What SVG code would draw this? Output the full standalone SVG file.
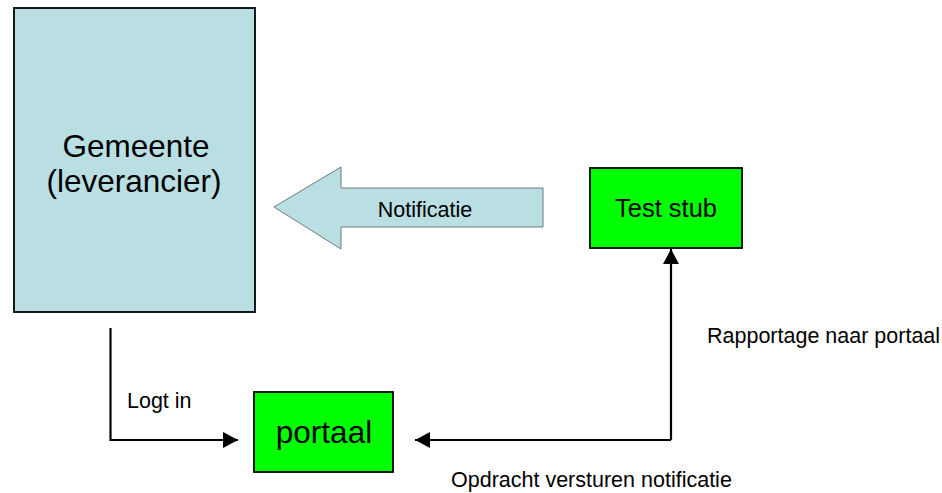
<svg xmlns="http://www.w3.org/2000/svg" width="942" height="493" viewBox="0 0 942 493">
<defs>
<style>
text{font-family:"Liberation Sans",Arial,sans-serif;fill:#000}
.big{font-size:31.5px}
.mid{font-size:25.5px}
.sm{font-size:21.5px}
.box{stroke:#000;stroke-width:1.8}
.conn{fill:none;stroke:#000;stroke-width:2.2}
</style>
<marker id="ah" viewBox="0 0 15 16" refX="15" refY="8" markerWidth="15" markerHeight="16" markerUnits="userSpaceOnUse" orient="auto">
<path d="M0,0 L15,8 L0,16 Z" fill="#000"/>
</marker>
</defs>
<rect width="942" height="493" fill="#fff"/>
<g id="gemeente">
<rect class="box" x="14" y="8" width="241" height="304" fill="#B9DFE3"/>
<text class="big" x="136" y="157" text-anchor="middle">Gemeente</text>
<text class="big" x="134" y="192" text-anchor="middle">(leverancier)</text>
</g>
<g id="notificatie">
<path d="M274,207 L341,167 L341,188 L543,188 L543,227 L341,227 L341,249 Z" fill="#B9DFE3" stroke="#6b7b7d" stroke-width="1"/>
<text class="sm" x="425" y="217" text-anchor="middle">Notificatie</text>
</g>
<g id="teststub">
<rect class="box" x="590" y="168" width="152" height="80" fill="#00FF00"/>
<text class="mid" x="666" y="217" text-anchor="middle">Test stub</text>
</g>
<g id="portaal">
<rect class="box" x="254" y="392" width="139" height="80" fill="#00FF00"/>
<text class="big" x="324" y="443" text-anchor="middle">portaal</text>
</g>
<g id="connectors">
<path class="conn" d="M110.5,328 L110.5,440 L238,440" marker-end="url(#ah)"/>
<path class="conn" d="M671,440 L415,440" marker-end="url(#ah)"/>
<path class="conn" d="M671,440 L671,249" marker-end="url(#ah)"/>
<text class="sm" x="127" y="408">Logt in</text>
<text class="sm" x="707" y="343">Rapportage naar portaal</text>
<text class="sm" x="451" y="487">Opdracht versturen notificatie</text>
</g>
</svg>
